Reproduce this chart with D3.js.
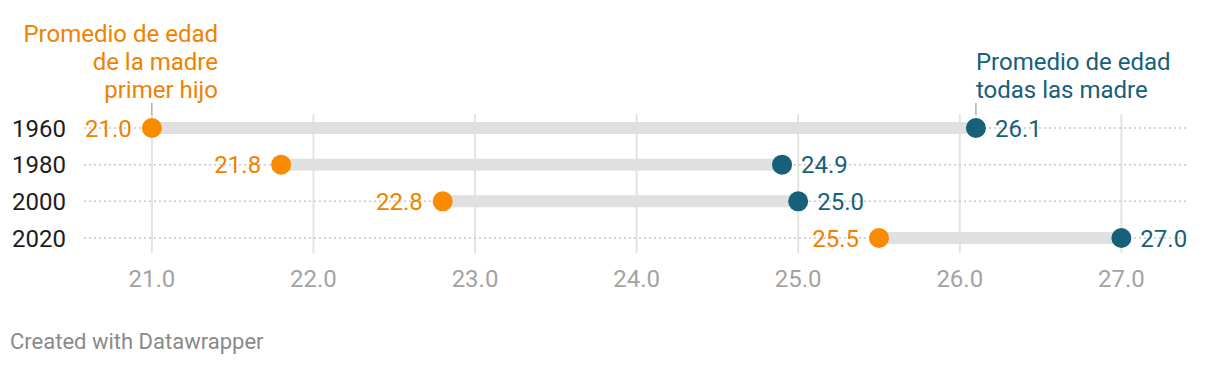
<!DOCTYPE html>
<html>
<head>
<meta charset="utf-8">
<script src="https://cdn.jsdelivr.net/npm/d3@7"></script>
<style>
  body { margin: 0; background: #fff; }
  svg text { font-family: Roboto, "Noto Sans", sans-serif; }
</style>
</head>
<body>
<svg id="chart" width="1220" height="366"></svg>
<script>
// data
var years = ["1960", "1980", "2000", "2020"];
var firstChild = [21.0, 21.8, 22.8, 25.5];
var allMothers = [26.1, 24.9, 25.0, 27.0];
var ticks = [21, 22, 23, 24, 25, 26, 27];
var leftLabel = ["Promedio de edad", "de la madre", "primer hijo"];
var rightLabel = ["Promedio de edad", "todas las madre"];

var orange = "#f98b00",
    orangeText = "#ef8200",
    blue = "#17607a";

var svg = d3.select("#chart");

var x = d3.scaleLinear()
    .domain([20.58, 27.4])
    .range([84, 1186]);

var y = d3.scalePoint()
    .domain(years)
    .range([128, 238]);

// vertical grid
svg.append("g")
  .selectAll("line")
  .data(ticks)
  .join("line")
    .attr("x1", function(d) { return x(d); })
    .attr("x2", function(d) { return x(d); })
    .attr("y1", 114)
    .attr("y2", 253)
    .attr("stroke", "#e3e3e3")
    .attr("stroke-width", 2);

// tick labels
svg.append("g")
  .selectAll("text")
  .data(ticks)
  .join("text")
    .attr("x", function(d) { return x(d); })
    .attr("y", 287)
    .attr("text-anchor", "middle")
    .attr("fill", "#a3a3a3")
    .attr("font-size", 24)
    .text(function(d) { return d3.format(".1f")(d); });

// dotted row lines
svg.append("g")
  .selectAll("line")
  .data(years)
  .join("line")
    .attr("x1", x.range()[0])
    .attr("x2", x.range()[1])
    .attr("y1", function(d) { return y(d); })
    .attr("y2", function(d) { return y(d); })
    .attr("stroke", "#c8c8c8")
    .attr("stroke-width", 1.5)
    .attr("stroke-dasharray", "2,3");

// year labels
svg.append("g")
  .selectAll("text")
  .data(years)
  .join("text")
    .attr("x", 66)
    .attr("y", function(d) { return y(d) + 8.5; })
    .attr("text-anchor", "end")
    .attr("fill", "#1d1d1d")
    .attr("font-size", 24)
    .text(function(d) { return d; });

// range bars
svg.append("g")
  .selectAll("line")
  .data(years)
  .join("line")
    .attr("x1", function(d, i) { return x(firstChild[i]); })
    .attr("x2", function(d, i) { return x(allMothers[i]); })
    .attr("y1", function(d) { return y(d); })
    .attr("y2", function(d) { return y(d); })
    .attr("stroke", "#e0e0e0")
    .attr("stroke-width", 12);

// dots
svg.append("g")
  .selectAll("circle")
  .data(years)
  .join("circle")
    .attr("cx", function(d, i) { return x(firstChild[i]); })
    .attr("cy", function(d) { return y(d); })
    .attr("r", 10)
    .attr("fill", orange);

svg.append("g")
  .selectAll("circle")
  .data(years)
  .join("circle")
    .attr("cx", function(d, i) { return x(allMothers[i]); })
    .attr("cy", function(d) { return y(d); })
    .attr("r", 10)
    .attr("fill", blue);

// value labels
svg.append("g")
  .selectAll("text")
  .data(years)
  .join("text")
    .attr("x", function(d, i) { return x(firstChild[i]) - 20; })
    .attr("y", function(d) { return y(d) + 8.5; })
    .attr("text-anchor", "end")
    .attr("fill", orangeText)
    .attr("font-size", 24)
    .text(function(d, i) { return d3.format(".1f")(firstChild[i]); });

svg.append("g")
  .selectAll("text")
  .data(years)
  .join("text")
    .attr("x", function(d, i) { return x(allMothers[i]) + 19; })
    .attr("y", function(d) { return y(d) + 8.5; })
    .attr("text-anchor", "start")
    .attr("fill", blue)
    .attr("font-size", 24)
    .text(function(d, i) { return d3.format(".1f")(allMothers[i]); });

// series annotations
var lx = x(firstChild[0]), rx = x(allMothers[0]);

svg.append("line")
  .attr("x1", lx).attr("x2", lx).attr("y1", 103).attr("y2", 115)
  .attr("stroke", "#888").attr("stroke-width", 1);
svg.append("line")
  .attr("x1", rx).attr("x2", rx).attr("y1", 103).attr("y2", 115)
  .attr("stroke", "#888").attr("stroke-width", 1);

svg.append("g")
  .selectAll("text")
  .data(leftLabel)
  .join("text")
    .attr("x", 218)
    .attr("y", function(d, i) { return 42 + i * 28; })
    .attr("text-anchor", "end")
    .attr("fill", orangeText)
    .attr("font-size", 24)
    .text(function(d) { return d; });

svg.append("g")
  .selectAll("text")
  .data(rightLabel)
  .join("text")
    .attr("x", rx)
    .attr("y", function(d, i) { return 70 + i * 28; })
    .attr("text-anchor", "start")
    .attr("fill", blue)
    .attr("font-size", 24)
    .text(function(d) { return d; });

// footer
svg.append("text")
  .attr("x", 10)
  .attr("y", 349)
  .attr("fill", "#8a8a8a")
  .attr("font-size", 22)
  .text("Created with Datawrapper");
</script>
</body>
</html>
